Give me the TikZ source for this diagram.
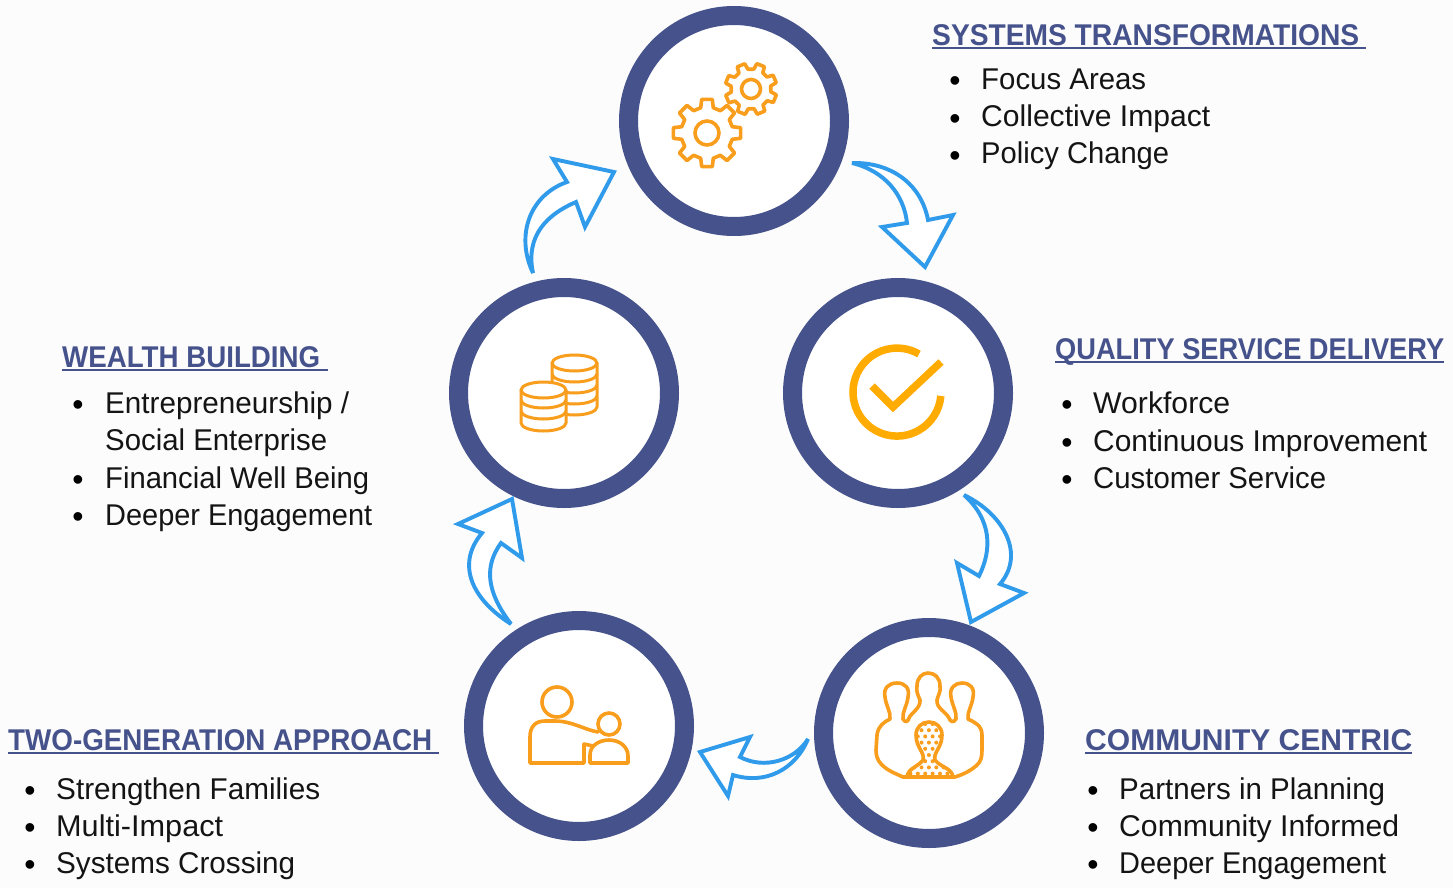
\documentclass[tikz,border=0pt]{standalone}
\usepackage{graphicx}
\usepackage{fontspec}
\setmainfont{Liberation Sans}
\definecolor{ringblue}{HTML}{45528B}
\definecolor{arrowblue}{HTML}{2F9BEA}
\definecolor{iconorange}{HTML}{F99D1C}
\definecolor{checkorange}{HTML}{FFAB00}
\definecolor{bodytext}{HTML}{141414}
\tikzset{
  ring/.style={circle,draw=ringblue,line width=19pt,fill=white,minimum size=211pt,inner sep=0pt},
  flowarrow/.style={draw=arrowblue,line width=3.9pt,fill=white,line join=miter,miter limit=3.5},
  iconline/.style={draw=iconorange,line width=3.6pt,line join=round,line cap=round},
  thinicon/.style={draw=iconorange,line width=3pt,line join=round,fill=white},
  head/.style={anchor=base west,inner sep=0pt,text=ringblue,font=\fontsize{30}{30}\selectfont\bfseries},
  headrule/.style={draw=ringblue,line width=1.6pt},
  item/.style={anchor=base west,inner sep=0pt,text=bodytext,font=\fontsize{30}{30}\selectfont},
  dotb/.style={anchor=base,inner sep=0pt,text=black,font=\fontsize{32}{32}\selectfont},
}
\newcommand{\fitw}[2]{\resizebox{#1pt}{\height}{#2}}
\newcommand{\gearicon}[6]{% cx cy outer root hole rot
  \draw[iconline,fill=white,shift={(#1,#2)}]
    (#6-14:#4)
    \foreach \k in {0,45,...,315}{
      -- (#6+\k-14:#4) -- (#6+\k-9:#3) -- (#6+\k+9:#3) -- (#6+\k+14:#4) -- (#6+\k+31:#4)
    } -- cycle;
  \draw[iconline] (#1,#2) circle[radius=#5];
}
\newcommand{\bulletline}[5]{% bullet x, text x, base y, width, text
  \node[dotb] (b#1x#3) at (#1,#3+2) {•};
  \node[item] (t#1x#3) at (#2,#3) {\fitw{#4}{#5}};
}
\begin{document}
\begin{tikzpicture}[x=1pt,y=-1pt]
\useasboundingbox (0,0) rectangle (1453,888);
\fill[white!99!black] (0,0) rectangle (1453,888);

% rings
\node[ring] (systems) at (734,121) {};
\node[ring] (wealth) at (564,393) {};
\node[ring] (quality) at (898,393) {};
\node[ring] (community) at (929,733) {};
\node[ring] (twogen) at (579,726) {};

% block arrows
\draw[flowarrow] (852,163) .. controls (890,162) and (921,183) .. (928,220)
  -- (953,215) -- (925,267) -- (882,227) -- (907,223)
  .. controls (904,195) and (885,171) .. (852,163) -- cycle;
\draw[flowarrow] (533,273) .. controls (515,235) and (530,195) .. (567,182)
  -- (553,159) -- (614,172) -- (585,227) -- (576,202)
  .. controls (548,214) and (525,235) .. (533,273) -- cycle;
\draw[flowarrow] (964,495) .. controls (1005,515) and (1025,555) .. (1000,584)
  -- (1024,593) -- (971,622) -- (957,563) -- (979,576)
  .. controls (992,550) and (992,520) .. (964,495) -- cycle;
\draw[flowarrow] (808,739) .. controls (795,760) and (765,770) .. (740,757)
  -- (750,737) -- (700,752) -- (728,796) -- (733,775)
  .. controls (765,785) and (795,770) .. (808,739) -- cycle;
\draw[flowarrow] (511,624) .. controls (473,600) and (455,565) .. (482,533)
  -- (458,524) -- (512,499) -- (522,558) -- (501,543)
  .. controls (485,565) and (485,590) .. (511,624) -- cycle;

% gears
\gearicon{707}{133}{34}{26}{12}{0}
\gearicon{751}{89}{26}{20}{9.5}{22}

% coins
\draw[thinicon] (552,363) -- (552,407) arc[start angle=180,end angle=0,x radius=22.5,y radius=8] -- (597,363);
\foreach \yy in {374,385,396}{
  \draw[thinicon,fill=none] (552,\yy) arc[start angle=180,end angle=0,x radius=22.5,y radius=8];
}
\draw[thinicon] (574.5,363) ellipse[x radius=22.5,y radius=8];
\draw[thinicon] (521,390) -- (521,423) arc[start angle=180,end angle=0,x radius=22.5,y radius=8] -- (566,390);
\foreach \yy in {400,411}{
  \draw[thinicon,fill=none] (521,\yy) arc[start angle=180,end angle=0,x radius=22.5,y radius=8];
}
\draw[thinicon] (543.5,390) ellipse[x radius=22.5,y radius=8];

% check
\draw[checkorange,line width=7.5pt] (919,354) arc[start angle=-60,end angle=-355,radius=44];
\draw[checkorange,line width=7.5pt] (872,386) -- (893,407) -- (941,362);

% community icon
\draw[iconline,fill=white] (903,777)
  .. controls (894,773) and (887,770) .. (882,765)
  .. controls (877,760) and (876,755) .. (876,750) -- (877,735)
  .. controls (878,726) and (884,722) .. (890,719)
  .. controls (891,712) and (886,706) .. (885,697)
  .. controls (883,688) and (889,683) .. (897,683)
  .. controls (905,683) and (910,688) .. (908,697)
  .. controls (907,706) and (902,712) .. (903,719)
  .. controls (905,723) and (908,722) .. (909,718)
  .. controls (911,713) and (921,708) .. (920,700)
  .. controls (918,695) and (916,692) .. (917,686)
  .. controls (917,678) and (922,673) .. (928,673)
  .. controls (935,673) and (940,678) .. (940,686)
  .. controls (941,692) and (938,695) .. (937,700)
  .. controls (936,708) and (946,712) .. (949,718)
  .. controls (950,722) and (954,723) .. (956,719)
  .. controls (957,712) and (952,705) .. (951,697)
  .. controls (949,688) and (955,683) .. (962,683)
  .. controls (970,683) and (975,688) .. (973,697)
  .. controls (972,706) and (967,712) .. (968,719)
  .. controls (974,722) and (982,725) .. (982,735)
  -- (982,750) .. controls (982,757) and (981,762) .. (976,766)
  .. controls (970,771) and (964,774) .. (955,777) -- cycle;
\begin{scope}
\clip (907,777) .. controls (908,768) and (918,767) .. (923,760)
  .. controls (925,752) and (916,748) .. (916,735)
  .. controls (916,727) and (922,722) .. (929,722)
  .. controls (936,722) and (942,727) .. (942,735)
  .. controls (942,748) and (933,752) .. (935,760)
  .. controls (940,767) and (952,768) .. (953,777) -- cycle;
\foreach \i in {0,...,8}{
  \foreach \j in {0,...,9}{
    \fill[iconorange] ({903+\i*7.4+mod(\j,2)*3.7},{724+\j*6.2}) circle[radius=2];
  }
}
\end{scope}
\draw[iconline,fill=none] (907,777) .. controls (908,768) and (918,767) .. (923,760)
  .. controls (925,752) and (916,748) .. (916,735)
  .. controls (916,727) and (922,722) .. (929,722)
  .. controls (936,722) and (942,727) .. (942,735)
  .. controls (942,748) and (933,752) .. (935,760)
  .. controls (940,767) and (952,768) .. (953,777);

% two-generation icon
\draw[iconline] (557,702) circle[radius=15];
\draw[iconline] (609,724) circle[radius=11];
\draw[iconline] (598,732) .. controls (585,730) and (572,721) .. (555,721)
  -- (545,721) .. controls (535,721) and (530,727) .. (530,737)
  -- (530,763) -- (584,763) -- (584,744) -- (593,746);
\draw[iconline] (590,763) -- (590,755) .. controls (590,745) and (600,740) .. (609,740)
  .. controls (620,740) and (628,747) .. (628,756) -- (628,763) -- cycle;

% headings
\node[head] (h1) at (932,45.5) {\fitw{427}{SYSTEMS TRANSFORMATIONS}};
\draw[headrule] (932,48) -- (1366,48);
\node[head] (h2) at (1055,359) {\fitw{389}{QUALITY SERVICE DELIVERY}};
\draw[headrule] (1055,362) -- (1444,362);
\node[head] (h3) at (1085,750) {\fitw{327}{COMMUNITY CENTRIC}};
\draw[headrule] (1085,753) -- (1412,753);
\node[head] (h4) at (8,750) {\fitw{424}{TWO-GENERATION APPROACH}};
\draw[headrule] (8,753) -- (439,753);
\node[head] (h5) at (62,367) {\fitw{258}{WEALTH BUILDING}};
\draw[headrule] (62,370) -- (328,370);

% bullet lists
\bulletline{955}{981}{90}{165}{Focus Areas}
\bulletline{955}{981}{127}{229}{Collective Impact}
\bulletline{955}{981}{164}{188}{Policy Change}
\bulletline{1067}{1093}{413}{137}{Workforce}
\bulletline{1067}{1093}{451}{334}{Continuous Improvement}
\bulletline{1067}{1093}{488}{233}{Customer Service}
\bulletline{1093}{1119}{799}{266}{Partners in Planning}
\bulletline{1093}{1119}{836}{280}{Community Informed}
\bulletline{1093}{1119}{873}{267}{Deeper Engagement}
\bulletline{30}{56}{799}{264}{Strengthen Families}
\bulletline{30}{56}{836}{167}{Multi-Impact}
\bulletline{30}{56}{873}{239}{Systems Crossing}
\bulletline{78}{105}{413}{244}{Entrepreneurship /}
\node[item] (tcont) at (105,450) {\fitw{222}{Social Enterprise}};
\bulletline{78}{105}{488}{264}{Financial Well Being}
\bulletline{78}{105}{525}{267}{Deeper Engagement}
\end{tikzpicture}
\end{document}
